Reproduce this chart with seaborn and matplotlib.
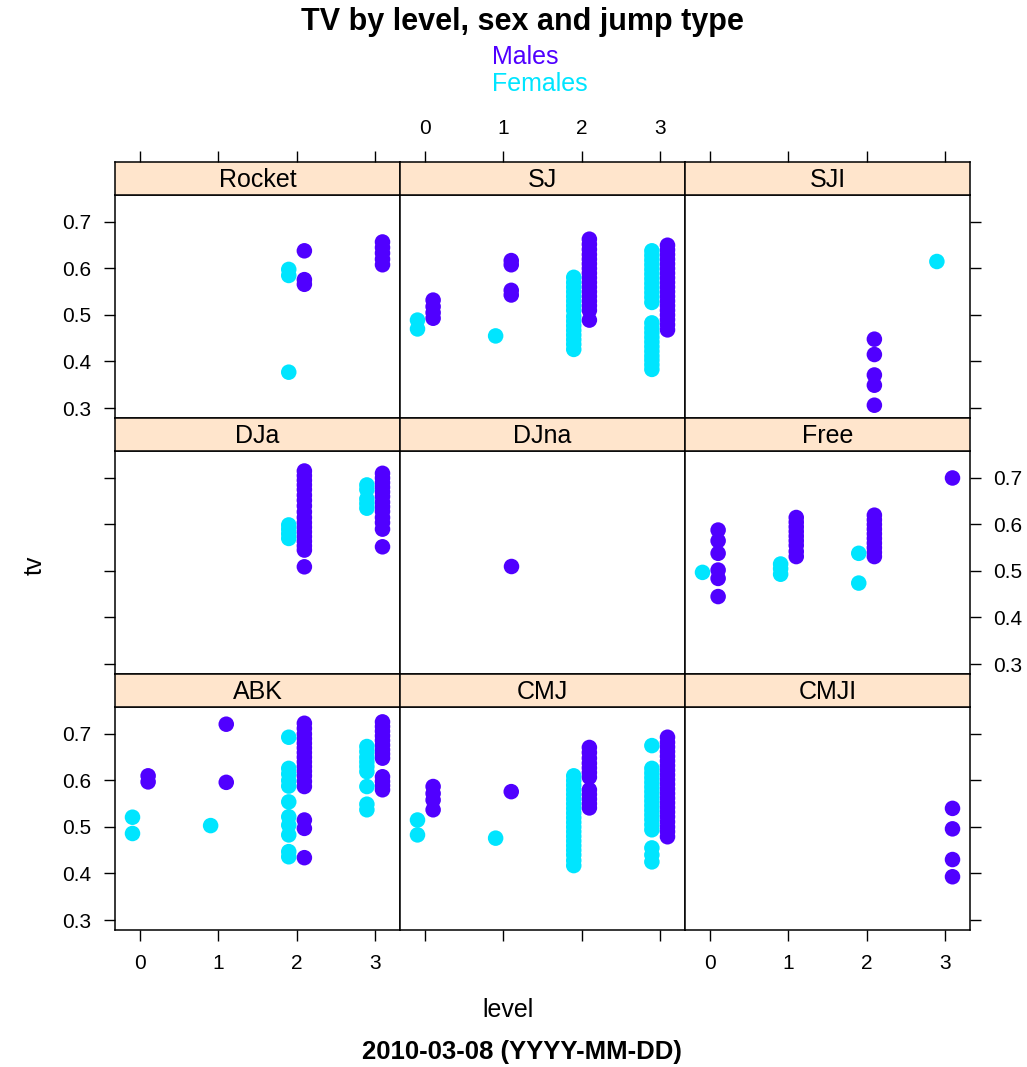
import numpy as np
import pandas as pd
import matplotlib
matplotlib.use("Agg")
import matplotlib.pyplot as plt
import seaborn as sns

# ---------------- data ----------------
jump_types = ["Rocket", "SJ", "SJI", "DJa", "DJna", "Free", "ABK", "CMJ", "CMJI"]
levels = [0, 1, 2, 3]
sexes = ["Males", "Females"]

rocket_f = {2: [0.598, 0.585, 0.377]}
rocket_m = {2: [0.638, 0.576, 0.566], 3: [0.657, 0.645, 0.633, 0.620, 0.608]}

sj_f = {0: [0.489, 0.470], 1: [0.455],
        2: [0.581, 0.570, 0.560, 0.550, 0.540, 0.530, 0.520, 0.510, 0.497, 0.487,
            0.477, 0.467, 0.457, 0.447, 0.437, 0.426],
        3: [0.638, 0.628, 0.618, 0.608, 0.598, 0.588, 0.578, 0.568, 0.558, 0.548,
            0.538, 0.527, 0.483, 0.472, 0.462, 0.452, 0.442, 0.432, 0.422, 0.412,
            0.403, 0.393, 0.383]}
sj_m = {0: [0.532, 0.518, 0.505, 0.493], 1: [0.617, 0.608, 0.553, 0.543],
        2: [0.663, 0.652, 0.641, 0.630, 0.620, 0.610, 0.600, 0.590, 0.580, 0.570,
            0.560, 0.550, 0.540, 0.530, 0.520, 0.510, 0.489],
        3: [0.650, 0.640, 0.630, 0.620, 0.610, 0.600, 0.590, 0.580, 0.570, 0.560,
            0.550, 0.540, 0.530, 0.520, 0.510, 0.500, 0.490, 0.479, 0.468]}

sji_f = {3: [0.615]}
sji_m = {2: [0.448, 0.415, 0.371, 0.349, 0.306]}

dja_f = {2: [0.599, 0.590, 0.580, 0.570], 3: [0.685, 0.675, 0.655, 0.645, 0.635]}
dja_m = {2: [0.715, 0.705, 0.695, 0.685, 0.675, 0.663, 0.652, 0.640, 0.627, 0.615,
             0.604, 0.594, 0.584, 0.574, 0.564, 0.554, 0.545, 0.509],
         3: [0.710, 0.700, 0.690, 0.680, 0.670, 0.660, 0.648, 0.638, 0.628, 0.615,
             0.604, 0.590, 0.552]}

djna_f = {}
djna_m = {1: [0.511]}

free_f = {0: [0.497], 1: [0.515, 0.505, 0.493], 2: [0.538, 0.474]}
free_m = {0: [0.588, 0.565, 0.538, 0.502, 0.484, 0.445],
          1: [0.615, 0.605, 0.595, 0.585, 0.575, 0.565, 0.555, 0.542, 0.531],
          2: [0.620, 0.610, 0.600, 0.590, 0.580, 0.570, 0.560, 0.550, 0.540, 0.531],
          3: [0.700]}

abk_f = {0: [0.521, 0.486], 1: [0.503],
         2: [0.693, 0.626, 0.614, 0.600, 0.588, 0.554, 0.522, 0.504, 0.483, 0.447, 0.436],
         3: [0.673, 0.662, 0.650, 0.640, 0.630, 0.619, 0.587, 0.549, 0.537]}
abk_m = {0: [0.610, 0.597], 1: [0.721, 0.596],
         2: [0.723, 0.712, 0.700, 0.690, 0.680, 0.670, 0.660, 0.650, 0.640, 0.630,
             0.620, 0.610, 0.598, 0.587, 0.515, 0.497, 0.434],
         3: [0.726, 0.716, 0.706, 0.696, 0.686, 0.676, 0.666, 0.657, 0.648, 0.608,
             0.598, 0.589, 0.580]}

cmj_f = {0: [0.515, 0.483], 1: [0.476],
         2: [0.610, 0.600, 0.590, 0.580, 0.570, 0.560, 0.550, 0.540, 0.530, 0.520,
             0.510, 0.500, 0.490, 0.480, 0.470, 0.460, 0.450, 0.440, 0.428, 0.417],
         3: [0.675, 0.626, 0.616, 0.606, 0.596, 0.586, 0.576, 0.566, 0.556, 0.546,
             0.536, 0.526, 0.516, 0.505, 0.494, 0.455, 0.440, 0.425]}
cmj_m = {0: [0.587, 0.572, 0.558, 0.537], 1: [0.576],
         2: [0.671, 0.660, 0.648, 0.637, 0.627, 0.617, 0.607, 0.580, 0.570, 0.560,
             0.550, 0.541],
         3: [0.693, 0.682, 0.672, 0.662, 0.652, 0.642, 0.632, 0.622, 0.612, 0.602,
             0.592, 0.582, 0.572, 0.562, 0.552, 0.542, 0.532, 0.522, 0.511, 0.500,
             0.490, 0.479]}

cmji_f = {}
cmji_m = {3: [0.540, 0.496, 0.430, 0.393]}

panel_data = {
    "Rocket": (rocket_m, rocket_f), "SJ": (sj_m, sj_f), "SJI": (sji_m, sji_f),
    "DJa": (dja_m, dja_f), "DJna": (djna_m, djna_f), "Free": (free_m, free_f),
    "ABK": (abk_m, abk_f), "CMJ": (cmj_m, cmj_f), "CMJI": (cmji_m, cmji_f),
}

rows = []
for jt in jump_types:
    for sex, d in zip(sexes, panel_data[jt]):
        for lev, vals in d.items():
            for v in vals:
                rows.append((jt, sex, lev, v))
df = pd.DataFrame(rows, columns=["jump", "sex", "level", "tv"])
sex_shift = {"Males": 0.1, "Females": -0.1}
df["xpos"] = df["level"] + df["sex"].map(sex_shift)

# ---------------- style ----------------
sns.set_theme(style="white")
plt.rcParams["font.family"] = ["Liberation Sans", "DejaVu Sans"]
plt.rcParams["text.color"] = "black"
plt.rcParams["xtick.color"] = "black"
plt.rcParams["ytick.color"] = "black"
plt.rcParams["xtick.labelcolor"] = "black"
plt.rcParams["ytick.labelcolor"] = "black"
palette = {"Males": "#5000FF", "Females": "#00E5FF"}
strip_bg = "#FFE5CC"

W, H = 1027, 1067
fig = plt.figure(figsize=(W / 100, H / 100), dpi=100)

col_x = [115, 400, 685]
row_top = [162, 418, 674]
col_w, strip_h, panel_h = 285, 33, 223
xlim = (-0.324, 3.324)
ylim = (0.2785, 0.758)
yt = [0.3, 0.4, 0.5, 0.6, 0.7]

tick_kw = dict(length=8, width=1, pad=9, labelsize=15, direction="out",
               color="black", labelcolor="black")

for i, jt in enumerate(jump_types):
    r, c = divmod(i, 3)
    x0 = col_x[c] / W
    ax = fig.add_axes([x0, 1 - (row_top[r] + strip_h + panel_h) / H, col_w / W, panel_h / H])
    sax = fig.add_axes([x0, 1 - (row_top[r] + strip_h) / H, col_w / W, strip_h / H])

    sub = df[df["jump"] == jt]
    sns.scatterplot(data=sub, x="xpos", y="tv", hue="sex", hue_order=["Females", "Males"],
                    palette=palette, s=125, linewidth=0, legend=False, ax=ax, zorder=3)
    ax.set_xlim(*xlim)
    ax.set_ylim(*ylim)
    ax.set_xlabel("")
    ax.set_ylabel("")
    ax.set_xticks(levels)
    ax.set_yticks(yt)
    ax.set_yticklabels([f"{v:.1f}" for v in yt])
    for sp in ax.spines.values():
        sp.set_color("black")
        sp.set_linewidth(1.1)
    ax.tick_params(axis="both", **tick_kw)
    ax.tick_params(axis="x", bottom=(r == 2), top=False,
                   labelbottom=(r == 2 and c != 1), labeltop=False)
    ax.tick_params(axis="y", left=(c == 0), right=(c == 2),
                   labelleft=(c == 0 and r != 1), labelright=(c == 2 and r == 1))

    # strip
    sax.set_facecolor(strip_bg)
    sax.set_xlim(*xlim)
    sax.set_ylim(0, 1)
    sax.set_yticks([])
    for sp in sax.spines.values():
        sp.set_color("black")
        sp.set_linewidth(1.1)
    sax.set_xticks(levels)
    sax.tick_params(axis="x", **tick_kw)
    sax.tick_params(axis="x", bottom=False, labelbottom=False,
                    top=(r == 0), labeltop=(r == 0 and c == 1))
    sax.text(0.5, 0.45, jt, transform=sax.transAxes, ha="center", va="center",
             fontsize=18, color="black")

# titles / labels
fig.text(522 / W, 1 - 22 / H, "TV by level, sex and jump type", ha="center", va="center",
         fontsize=22, fontweight="bold", color="black")
fig.text(492 / W, 1 - 57 / H, "Males", ha="left", va="center", fontsize=18,
         color=palette["Males"])
fig.text(492 / W, 1 - 84 / H, "Females", ha="left", va="center", fontsize=18,
         color=palette["Females"])
fig.text(35 / W, 1 - 565 / H, "tv", ha="center", va="center", rotation=90, fontsize=18,
         color="black")
fig.text(508 / W, 1 - 1010 / H, "level", ha="center", va="center", fontsize=18,
         color="black")
fig.text(522 / W, 1 - 1052 / H, "2010-03-08 (YYYY-MM-DD)", ha="center", va="center",
         fontsize=18.5, fontweight="bold", color="black")

fig.savefig("out.png", dpi=100, facecolor="white")
